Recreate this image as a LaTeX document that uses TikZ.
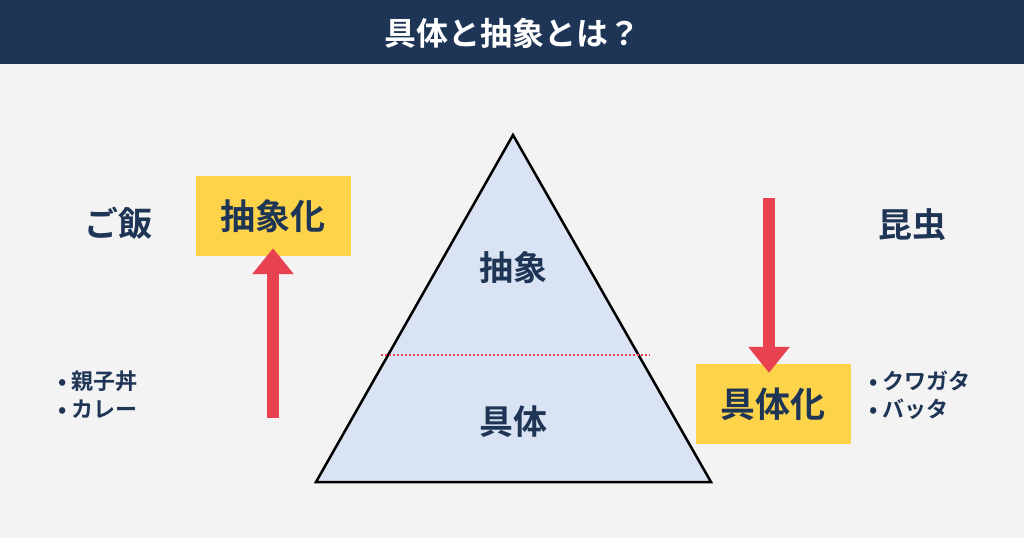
\documentclass[tikz,border=0pt]{standalone}
\usepackage{fontspec}
\setmainfont{Noto Sans CJK JP}[BoldFont={* Bold}]
\usetikzlibrary{positioning, arrows.meta}
\definecolor{navy}{HTML}{1F3556}
\definecolor{bg}{HTML}{F3F3F3}
\definecolor{tri}{HTML}{D9E3F3}
\definecolor{arred}{HTML}{E8414F}
\definecolor{ybox}{HTML}{FDD34A}
\tikzset{
  big/.style={text=navy, font=\fontsize{34}{34}\selectfont\bfseries},
  side/.style={text=navy, font=\fontsize{34}{34}\selectfont\bfseries},
  yel/.style={fill=ybox, minimum width=155pt, minimum height=80pt, text=navy, font=\fontsize{35}{35}\selectfont\bfseries},
  item/.style={text=navy, font=\fontsize{22}{28}\selectfont\bfseries, align=left, anchor=west},
  bigarrow/.style={arred, line width=12pt, -{Triangle[length=26pt, width=40pt]}}
}
\begin{document}
\begin{tikzpicture}[x=1pt, y=-1pt]
	\fill[bg] (0,0) rectangle (1024,538);
	\useasboundingbox (0,0) rectangle (1024,538);
	\fill[navy] (0,0) rectangle (1024,64);
	\node[text=white, font=\fontsize{32}{32}\selectfont\bfseries] (title) at (512,33) {具体と抽象とは？};

	% pyramid
	\coordinate (top) at (513,135);
	\coordinate (bl) at (316,482);
	\coordinate (br) at (711,482);
	\filldraw[fill=tri, draw=black, line width=2.5pt, line join=miter] (top) -- (bl) -- (br) -- cycle;
	\coordinate (dl) at (381,355);
	\coordinate (dr) at (650,355);
	\draw[arred, line width=1.5pt, dash pattern=on 2pt off 2pt] (dl) -- (dr);
	\node[big] (abs) at (513,268) {抽象};
	\node[big] (con) at (513,422) {具体};

	% left side
	\node[side] (rice) at (118,223) {ご飯};
	\node[yel] (absbox) at (273,216) {抽象化};
	\coordinate (lstart) at (273,418);
	\draw[bigarrow] (lstart) -- ([yshift=8pt]absbox.south);
	\node[item] (litems) at (55,395) {•\ 親子丼\\•\ カレー};

	% right side
	\node[side] (bug) at (912,225) {昆虫};
	\node[yel] (conbox) at (773,404) {具体化};
	\coordinate (rstart) at (769,198);
	\draw[bigarrow] (rstart) -- ([xshift=-4pt,yshift=-9pt]conbox.north);
	\node[item] (ritems) at (866,395) {•\ クワガタ\\•\ バッタ};
\end{tikzpicture}
\end{document}
